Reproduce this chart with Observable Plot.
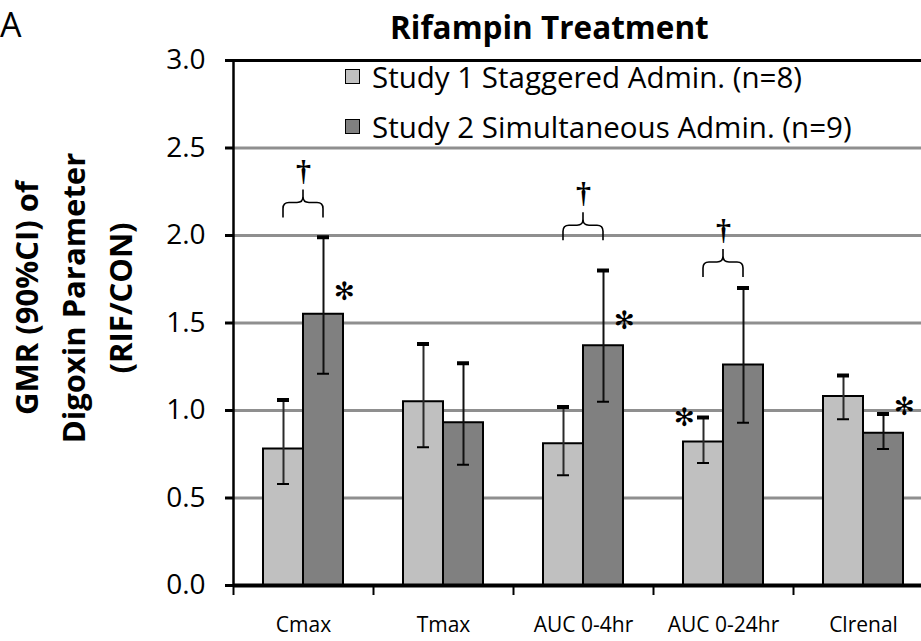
<!DOCTYPE html>
<html>
<head>
<meta charset="utf-8">
<script src="https://cdn.jsdelivr.net/npm/d3@7"></script>
<script src="https://cdn.jsdelivr.net/npm/@observablehq/plot@0.6"></script>
<style>
  html, body { margin: 0; padding: 0; background: #fff; overflow: hidden; }
  #wrap { position: relative; width: 921px; height: 641px; overflow: hidden; font-family: "Open Sans", sans-serif; }
  #chart { position: absolute; left: 0; top: 0; width: 933px; }
  #chart svg { max-width: none !important; }
  #panel { position: absolute; left: 0; top: 0px; font-size: 34px; line-height: 48px; }
  #title { position: absolute; left: 390px; top: 5px; font-size: 31.5px; font-weight: bold; white-space: nowrap; line-height: 44px; }
  #ylab { position: absolute; left: 73px; top: 298px; transform: translate(-50%, -50%) rotate(-90deg);
          font-size: 31px; font-weight: bold; text-align: center; line-height: 47px; white-space: nowrap; }
  #legend { position: absolute; left: 345px; top: 51px; font-size: 29.5px; }
  .lrow { display: flex; align-items: center; height: 50px; white-space: nowrap; }
  .lsw { width: 13px; height: 13px; border: 1.5px solid #000; margin-right: 12px; }
</style>
</head>
<body>
<div id="wrap">
  <div id="chart"></div>
  <div id="panel">A</div>
  <div id="title">Rifampin Treatment</div>
  <div id="ylab">GMR (90%CI) of<br>Digoxin Parameter<br>(RIF/CON)</div>
  <div id="legend"></div>
</div>
<script>
// ---- data ----
const params = ["Cmax", "Tmax", "AUC 0-4hr", "AUC 0-24hr", "Clrenal"];
const seriesNames = ["Study 1 Staggered Admin. (n=8)", "Study 2 Simultaneous Admin. (n=9)"];
const seriesColors = ["#c0c0c0", "#808080"];
const study1 = [0.78, 1.05, 0.81, 0.82, 1.08];
const study1Lo = [0.58, 0.79, 0.63, 0.70, 0.95];
const study1Hi = [1.06, 1.38, 1.02, 0.96, 1.20];
const study2 = [1.55, 0.93, 1.37, 1.26, 0.87];
const study2Lo = [1.21, 0.69, 1.05, 0.93, 0.78];
const study2Hi = [1.99, 1.27, 1.80, 1.70, 0.98];
const yTicks = [0, 0.5, 1.0, 1.5, 2.0, 2.5, 3.0];
const gridTicks = [0.5, 1.0, 1.5, 2.0, 2.5];
// significance markers (* vs control) and daggers (study 1 vs study 2)
const stars = [
  {param: "Cmax", side: "right", y: 1.68},
  {param: "AUC 0-4hr", side: "right", y: 1.51},
  {param: "AUC 0-24hr", side: "left", y: 0.96},
  {param: "Clrenal", side: "right", y: 1.02}
];
const braces = [
  {param: "Cmax", y: 2.10},
  {param: "AUC 0-4hr", y: 1.97},
  {param: "AUC 0-24hr", y: 1.76}
];

const s1 = params.map((p, i) => ({param: p, v: study1[i], lo: study1Lo[i], hi: study1Hi[i]}));
const s2 = params.map((p, i) => ({param: p, v: study2[i], lo: study2Lo[i], hi: study2Hi[i]}));

// brace mark drawn through the plot's scales
function braceMark(index, scales, values, dimensions) {
  const g = d3.create("svg:g").attr("fill", "none").attr("stroke", "#000").attr("stroke-width", 1.6);
  const bw = (dimensions.width - dimensions.marginLeft - dimensions.marginRight) / params.length;
  const hw = 20, r = 6;
  for (const b of braces) {
    const xc = scales.x(b.param) + bw / 2;
    const yb = scales.y(b.y);
    const ym = yb - 15, yt = yb - 28;
    const xL = xc - hw, xR = xc + hw;
    const d = `M${xL},${yb} L${xL},${ym + r} Q${xL},${ym} ${xL + r},${ym} L${xc - r},${ym} Q${xc},${ym} ${xc},${ym - r} L${xc},${yt}` +
              ` M${xc},${ym - r} Q${xc},${ym} ${xc + r},${ym} L${xR - r},${ym} Q${xR},${ym} ${xR},${ym + r} L${xR},${yb}`;
    g.append("path").attr("d", d);
  }
  return g.node();
}

const first = params.slice(0, 1);
const chart = Plot.plot({
  width: 933,
  height: 641,
  marginLeft: 233,
  marginRight: 0,
  marginTop: 60,
  marginBottom: 56,
  style: {fontFamily: "'Open Sans', sans-serif", fontSize: "21px", color: "#000", background: "transparent", overflow: "visible", maxWidth: "none"},
  x: {domain: params, padding: 0, axis: null},
  y: {domain: [0, 3], axis: null},
  marks: [
    Plot.ruleY(gridTicks, {stroke: "#8f8f8f", strokeWidth: 3}),
    Plot.ruleY([3], {stroke: "#000", strokeWidth: 3}),
    // bars
    Plot.barY(s1, {x: "param", y: "v", fill: seriesColors[0], stroke: "#000", strokeWidth: 2, insetLeft: 30, insetRight: 70}),
    Plot.barY(s2, {x: "param", y: "v", fill: seriesColors[1], stroke: "#000", strokeWidth: 2, insetLeft: 70, insetRight: 30}),
    // error bars
    Plot.ruleX(s1, {x: "param", y1: "lo", y2: "hi", dx: -20, stroke: "#2a2a2a", strokeWidth: 2}),
    Plot.ruleX(s2, {x: "param", y1: "lo", y2: "hi", dx: 20, stroke: "#111", strokeWidth: 2}),
    Plot.tickY(s1, {x: "param", y: "hi", insetLeft: 44, insetRight: 84, stroke: "#000", strokeWidth: 4}),
    Plot.tickY(s1, {x: "param", y: "lo", insetLeft: 44, insetRight: 84, stroke: "#000", strokeWidth: 2}),
    Plot.tickY(s2, {x: "param", y: "hi", insetLeft: 84, insetRight: 44, stroke: "#000", strokeWidth: 4}),
    Plot.tickY(s2, {x: "param", y: "lo", insetLeft: 84, insetRight: 44, stroke: "#000", strokeWidth: 2}),
    // axes lines, ticks and labels
    Plot.ruleY([0], {stroke: "#000", strokeWidth: 4}),
    Plot.ruleX(params, {x: d => d, y1: 0, y2: 0, dx: -70, insetBottom: -10, stroke: "#000", strokeWidth: 2}),
    Plot.ruleX(first, {x: d => d, y1: 0, y2: 3, dx: -70, stroke: "#000", strokeWidth: 2.5}),
    Plot.tickY(yTicks, {x: () => params[0], y: d => d, insetLeft: -8, insetRight: 140, stroke: "#000", strokeWidth: 3}),
    Plot.text(yTicks, {x: () => params[0], y: d => d, text: d3.format(".1f"), dx: -98, textAnchor: "end", fontSize: 28, fill: "#000"}),
    Plot.text(params, {x: d => d, y: () => 0, text: d => d, dy: 40, fontSize: 21, fill: "#000"}),
    // markers
    Plot.text(stars.filter(d => d.side === "right"), {x: "param", y: "y", text: () => "\u273B", dx: 41, dy: 0, fontSize: 25, fontFamily: "DejaVu Sans", fill: "#000"}),
    Plot.text(stars.filter(d => d.side === "left"), {x: "param", y: "y", text: () => "\u273B", dx: -39, dy: 0, fontSize: 25, fontFamily: "DejaVu Sans", fill: "#000"}),
    braceMark,
    Plot.text(braces, {x: "param", y: "y", text: () => "\u2020", dy: -47, fontSize: 30, fontWeight: "bold", fontFamily: "Liberation Serif", fill: "#000"})
  ]
});
document.getElementById("chart").appendChild(chart);

// legend
const legend = document.getElementById("legend");
seriesNames.forEach((name, i) => {
  const row = document.createElement("div");
  row.className = "lrow";
  const sw = document.createElement("div");
  sw.className = "lsw";
  sw.style.background = seriesColors[i];
  const t = document.createElement("span");
  t.textContent = name;
  row.appendChild(sw);
  row.appendChild(t);
  legend.appendChild(row);
});
</script>
</body>
</html>
